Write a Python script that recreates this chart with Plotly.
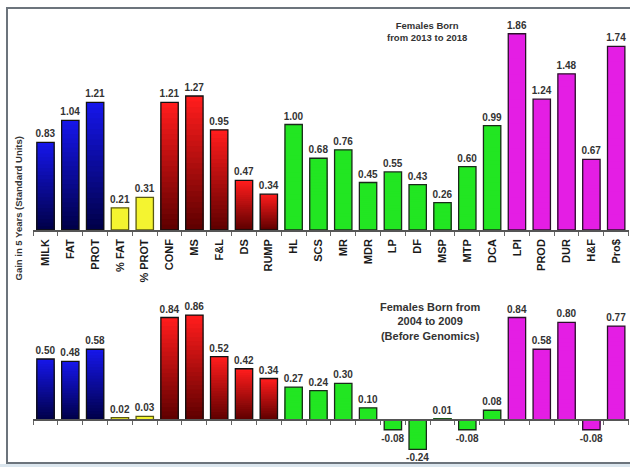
import plotly.graph_objects as go

# Trait categories along the x axis
categories = ["MILK", "FAT", "PROT", "% FAT", "% PROT", "CONF", "MS", "F&L", "DS", "RUMP",
              "HL", "SCS", "MR", "MDR", "LP", "DF", "MSP", "MTP", "DCA",
              "LPI", "PROD", "DUR", "H&F", "Pro$"]

# Gain in 5 years (standard units), females born 2013-2018
gain_recent = [0.83, 1.04, 1.21, 0.21, 0.31, 1.21, 1.27, 0.95, 0.47, 0.34,
               1.00, 0.68, 0.76, 0.45, 0.55, 0.43, 0.26, 0.60, 0.99,
               1.86, 1.24, 1.48, 0.67, 1.74]

# Gain in 5 years (standard units), females born 2004-2009 (before genomics)
gain_before = [0.50, 0.48, 0.58, 0.02, 0.03, 0.84, 0.86, 0.52, 0.42, 0.34,
               0.27, 0.24, 0.30, 0.10, -0.08, -0.24, 0.01, -0.08, 0.08,
               0.84, 0.58, 0.80, -0.08, 0.77]

# Trait group of each category
groups = ["prod"] * 3 + ["pct"] * 2 + ["conf"] * 5 + ["health"] * 9 + ["index"] * 5

# (top colour, bottom colour, outline) for each group
group_style = {
    "prod":   ("#1616e8", "#00004a", "#111111"),
    "pct":    ("#f4f430", "#f4f430", "#5a5a10"),
    "conf":   ("#ff1c1c", "#600000", "#111111"),
    "health": ("#22e622", "#22e622", "#1a2a1a"),
    "index":  ("#e41ee4", "#e41ee4", "#2a102a"),
}

W, H = 630, 467
BAR_W = 0.7
N_LAYERS = 24


def hex_rgb(h):
    h = h.lstrip("#")
    return tuple(int(h[i:i + 2], 16) for i in (0, 2, 4))


def mix(c_top, c_bot, t):
    a, b = hex_rgb(c_top), hex_rgb(c_bot)
    r = [round(a[i] + (b[i] - a[i]) * t) for i in range(3)]
    return "rgb({},{},{})".format(*r)


fig = go.Figure()


def add_panel(values, xref, yref):
    # vertical gradient: stacked overlay layers, each shorter and darker
    for k in range(N_LAYERS):
        frac = 1 - k / N_LAYERS
        t = k / (N_LAYERS - 1)
        cols = [mix(group_style[g][0], group_style[g][1], t) for g in groups]
        fig.add_trace(go.Bar(
            x=categories, y=[v * frac for v in values],
            xaxis=xref, yaxis=yref, width=BAR_W,
            marker=dict(color=cols, line=dict(width=0)),
            hoverinfo="skip", showlegend=False,
        ))
    # outline + value labels
    fig.add_trace(go.Bar(
        x=categories, y=values, xaxis=xref, yaxis=yref, width=BAR_W,
        marker=dict(color="rgba(0,0,0,0)",
                    line=dict(color=[group_style[g][2] for g in groups], width=1.3)),
        text=[f"{v:.2f}" for v in values], textposition="outside",
        constraintext="none",
        textfont=dict(family="Liberation Sans, Arial", size=10, color="#333333", weight="bold"),
        cliponaxis=False, showlegend=False,
    ))


add_panel(gain_recent, "x", "y")
add_panel(gain_before, "x2", "y2")

x_dom = [33.1 / W, 628.6 / W]

# top panel: baseline at 230px, 0..2 range
top_rng = [0, 2.0]
top_dom = [1 - 230 / H, 1 - 19 / H]
# bottom panel: baseline at 420px
bot_rng = [-0.35, 1.0]
bot_dom = [1 - 462.7 / H, 1 - 298 / H]
zero_pos = bot_dom[0] + (0 - bot_rng[0]) / (bot_rng[1] - bot_rng[0]) * (bot_dom[1] - bot_dom[0])

axis_common = dict(
    type="category", domain=x_dom, showgrid=False, zeroline=False,
    showline=True, linecolor="#555555", linewidth=1.5,
    ticks="outside", tickson="boundaries", ticklen=4, tickcolor="#666666", tickwidth=1,
    range=[-0.5, len(categories) - 0.5],
)

fig.update_layout(
    width=W, height=H, autosize=False,
    margin=dict(l=0, r=0, t=0, b=0),
    paper_bgcolor="white", plot_bgcolor="rgba(0,0,0,0)",
    barmode="overlay", bargap=0.3,
    font=dict(family="Liberation Sans, Arial", color="#222222"),
    xaxis=dict(**axis_common, anchor="y", tickangle=-90, ticklabelstandoff=3,
               tickfont=dict(family="Liberation Sans, Arial", size=11, color="#1a1a1a", weight="bold")),
    yaxis=dict(domain=top_dom, range=top_rng, visible=False, anchor="x"),
    xaxis2=dict(**axis_common, anchor="free", position=zero_pos, showticklabels=False),
    yaxis2=dict(domain=bot_dom, range=bot_rng, visible=False, anchor="x2"),
    shapes=[
        dict(type="rect", xref="paper", yref="paper", x0=0, x1=1.0, y0=0, y1=1 - 464 / H,
             fillcolor="#dbe6ee", line=dict(width=0), layer="below"),
        dict(type="rect", xref="paper", yref="paper", x0=7 / W, x1=1.02, y0=1 - 463 / H, y1=1 - 8 / H,
             line=dict(color="#6c747c", width=2), fillcolor="rgba(0,0,0,0)", layer="below"),
    ],
    annotations=[
        dict(text="Gain in 5 Years (Standard Units)", textangle=-90, showarrow=False,
             xref="paper", yref="paper", x=17.5 / W, y=1 - 209 / H,
             xanchor="center", yanchor="middle",
             font=dict(size=9.5, color="#333333", weight="bold")),
        dict(text="Females Born<br>from 2013 to 2018", showarrow=False,
             xref="paper", yref="paper", x=427 / W, y=1 - 31.5 / H,
             xanchor="center", yanchor="middle",
             font=dict(size=9.5, color="#333333", weight="bold")),
        dict(text="Females Born from<br>2004 to 2009<br>(Before Genomics)", showarrow=False,
             xref="paper", yref="paper", x=430 / W, y=1 - 321 / H,
             xanchor="center", yanchor="middle",
             font=dict(size=11, color="#333333", weight="bold")),
    ],
)

fig.write_html("out.html")
